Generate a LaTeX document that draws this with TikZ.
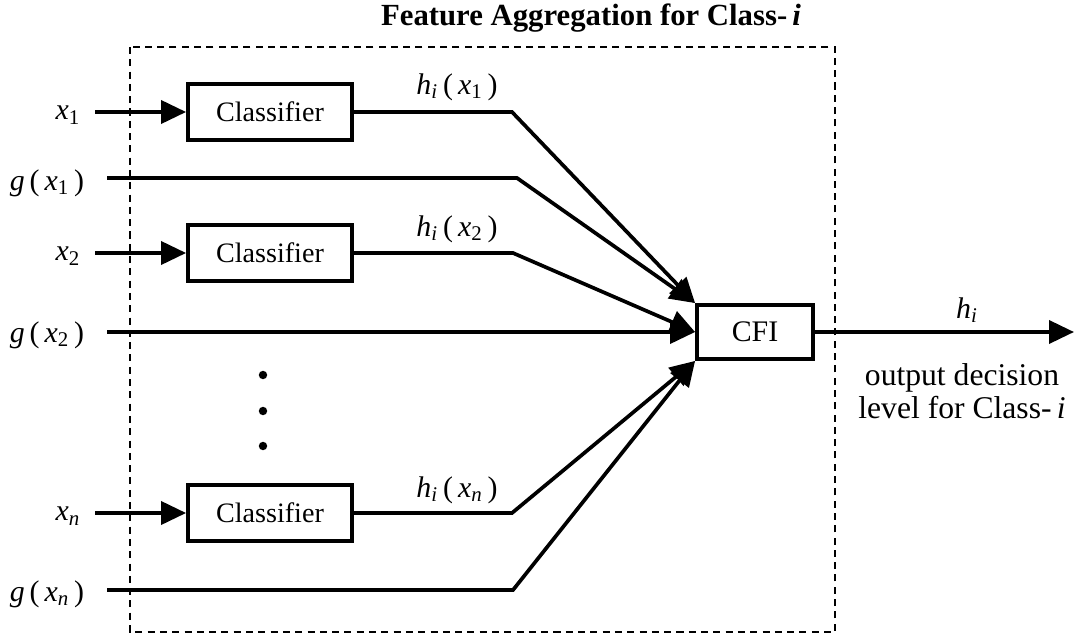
\documentclass[tikz,border=0pt]{standalone}
\usepackage{fontspec}
\setmainfont{Liberation Serif}
\usepackage{tikz}
\usetikzlibrary{arrows.meta}

\newcommand{\glab}[1]{\textit{g}\,(\,\textit{x}\textsubscript{#1}\,)}
\newcommand{\hlab}[1]{\textit{h}\textsubscript{\textit{i}}\,(\,\textit{x}\textsubscript{#1}\,)}

\begin{document}
\begin{tikzpicture}[x=0.02cm, y=-0.02cm,
  box/.style={draw, rectangle, line width=2.2pt, inner sep=0pt, fill=white},
  wire/.style={line width=2.1pt},
  arr/.style={wire, -{Triangle[length=0.5cm, width=0.46cm]}},
  lab/.style={font=\fontsize{17pt}{20pt}\selectfont}]%
\useasboundingbox (0,0) rectangle (1075,639);%
\node[font=\bfseries\fontsize{17.5pt}{21pt}\selectfont] (title) at (591,18) {Feature Aggregation for Class-\,\textit{i}};%
\draw[line width=0.9pt, dash pattern=on 4pt off 3pt] (130,47) rectangle (835,632);%
% classifiers and fusion box
\node[box, minimum width=3.28cm, minimum height=1.12cm, font=\fontsize{16pt}{19pt}\selectfont] (cls1) at (270,112) {Classifier};%
\node[box, minimum width=3.28cm, minimum height=1.12cm, font=\fontsize{16pt}{19pt}\selectfont] (cls2) at (270,253) {Classifier};%
\node[box, minimum width=3.28cm, minimum height=1.12cm, font=\fontsize{16pt}{19pt}\selectfont] (clsn) at (270,513) {Classifier};%
\node[box, minimum width=2.32cm, minimum height=1.08cm, font=\fontsize{17pt}{20pt}\selectfont] (cfi) at (755,332) {CFI};%
% input labels
\node[lab] (xin1) at (68,115) {\textit{x}\textsubscript{1}};%
\node[lab] (gin1) at (47,183) {\glab{1}};%
\node[lab] (xin2) at (68,256) {\textit{x}\textsubscript{2}};%
\node[lab] (gin2) at (47,335) {\glab{2}};%
\node[lab] (xinn) at (68,516) {\textit{x}\textsubscript{\textit{n}}};%
\node[lab] (ginn) at (47,594) {\glab{\textit{n}}};%
% classifier outputs
\node[lab] (hl1) at (457,87) {\hlab{1}};%
\node[lab] (hl2) at (457,229) {\hlab{2}};%
\node[lab] (hln) at (457,490) {\hlab{\textit{n}}};%
% wire ends and bends
\coordinate (xs1) at (95,112);%
\coordinate (xs2) at (95,253);%
\coordinate (xsn) at (95,513);%
\coordinate (gs1) at (107,178);%
\coordinate (gs2) at (107,332);%
\coordinate (gsn) at (107,590);%
\coordinate (hb1) at (512,112);%
\coordinate (gb1) at (517,178);%
\coordinate (hb2) at (513,253);%
\coordinate (hbn) at (512,513);%
\coordinate (gbn) at (513,590);%
\coordinate (out) at (1074,332);%
\draw[arr] (xs1) -- (cls1.west);%
\draw[arr] (xs2) -- (cls2.west);%
\draw[arr] (xsn) -- (clsn.west);%
\draw[arr] (cls1.east) -- (hb1) -- (cfi.north west);%
\draw[arr] (gs1) -- (gb1) -- (cfi.north west);%
\draw[arr] (cls2.east) -- (hb2) -- (cfi.west);%
\draw[arr] (gs2) -- (cfi.west);%
\draw[arr] (clsn.east) -- (hbn) -- (cfi.south west);%
\draw[arr] (gsn) -- (gbn) -- (cfi.south west);%
\draw[arr] (cfi.east) -- (out);%
% vertical dots
\fill (263,375) circle[radius=2.4pt];%
\fill (263,411) circle[radius=2.4pt];%
\fill (263,446) circle[radius=2.4pt];%
% output labels
\node[lab] (hout) at (967,310) {\textit{h}\textsubscript{\textit{i}}};%
\node[font=\fontsize{18pt}{19pt}\selectfont, align=center] (dec) at (962,391) {output decision\\level for Class-\,\textit{i}};%
\end{tikzpicture}
\end{document}
